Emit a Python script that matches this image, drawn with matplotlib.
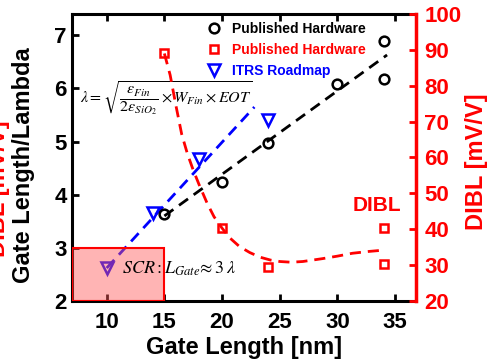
import matplotlib
matplotlib.use("Agg")
import matplotlib.pyplot as plt
from matplotlib.patches import Rectangle
import numpy as np

plt.rcParams['font.family'] = ['Liberation Sans', 'DejaVu Sans']
plt.rcParams['font.weight'] = 'normal'
plt.rcParams['mathtext.fontset'] = 'stix'

# Data
hw_x = [15, 20, 24, 30, 34, 34]
hw_ratio = [3.63, 4.24, 4.98, 6.09, 6.90, 6.18]
hw_fit_x = [15, 34.3]
hw_fit_y = [3.60, 6.63]

itrs_x = [10, 14, 18, 24]
itrs_ratio = [2.62, 3.66, 4.67, 5.41]
itrs_fit_x = [10, 22.8]
itrs_fit_y = [2.62, 5.65]

dibl_x = [15, 20, 24, 34, 34]
dibl_y = [89.0, 40.3, 29.5, 40.3, 30.3]
dibl_fit_x = [15.0, 15.5, 16.0, 16.5, 17.0, 17.5, 18.0, 18.7, 19.3, 20.0, 20.7, 21.5, 22.4,
              23.3, 24.2, 25.0, 26.0, 27.0, 28.7, 30.0, 31.3, 32.7, 34.1]
dibl_fit_y = [89.0, 83.0, 74.5, 66.5, 61.0, 56.5, 52.5, 47.3, 43.5, 40.3, 37.5, 35.2, 33.5,
              32.2, 31.4, 31.0, 30.8, 31.0, 31.8, 32.5, 33.3, 33.8, 34.2]

xticks = [10, 15, 20, 25, 30, 35]
yticks_left = [2, 3, 4, 5, 6, 7]
yticks_right = [20, 30, 40, 50, 60, 70, 80, 90, 100]

fig = plt.figure(figsize=(4.87, 3.6), dpi=100)
ax = fig.add_axes([0.148, 0.164, 0.706, 0.797])
ax2 = ax.twinx()

red = '#ff0000'
blue = '#0000ff'

# fits
ax.plot(hw_fit_x, hw_fit_y, '--', color='black', lw=2, dashes=(4, 2.5), zorder=2)
ax.plot(itrs_fit_x, itrs_fit_y, '--', color=blue, lw=2, dashes=(4, 2.5), zorder=2)
h_hw, = ax.plot(hw_x, hw_ratio, 'o', ms=7, mfc='none', mec='black', mew=1.8, zorder=3)
h_itrs, = ax.plot(itrs_x, itrs_ratio, 'v', ms=8.5, mfc='none', mec=blue, mew=1.8, zorder=3)

ax2.plot(dibl_fit_x, dibl_fit_y, '--', color=red, lw=2, dashes=(4, 2.5), zorder=2)
h_dibl, = ax2.plot(dibl_x, dibl_y, 's', ms=5.5, mfc='none', mec=red, mew=1.8, zorder=3)

# SCR rectangle
ax.add_patch(Rectangle((7, 2), 8, 1, facecolor=(1, 0.35, 0.35, 0.45), edgecolor=red, lw=1.5, zorder=4))

ax.set_xlim(7, 36.8)
ax.set_ylim(2, 7.4)
ax2.set_ylim(20, 100)
ax.set_xticks(xticks)
ax.set_yticks(yticks_left)
ax2.set_yticks(yticks_right)

ax.tick_params(axis='both', direction='in', width=2, length=5, labelsize=16, top=True, pad=6)
ax.tick_params(axis='y', pad=4)
ax.tick_params(axis='x', pad=8)
ax2.tick_params(axis='y', direction='in', width=2, length=5, labelsize=16, colors=red, pad=6)
for lab in ax.get_xticklabels() + ax.get_yticklabels():
    lab.set_fontweight('bold')
for lab in ax2.get_yticklabels():
    lab.set_fontweight('bold')
for s in ['left', 'bottom', 'top']:
    ax.spines[s].set_linewidth(2.2)
ax2.spines['right'].set_color(red)
ax2.spines['right'].set_linewidth(2.5)
for s in ['left', 'bottom', 'top']:
    ax2.spines[s].set_visible(False)
ax.spines['right'].set_visible(False)

ax.set_xlabel('Gate Length [nm]', fontsize=17, fontweight='bold', labelpad=2)
fig.text(0.048, 0.54, 'Gate Length/Lambda', rotation=90, fontsize=17, fontweight='bold',
         ha='center', va='center')
fig.text(-0.004, 0.475, 'DIBL [mV/V]', rotation=90, fontsize=17, fontweight='bold',
         ha='center', va='center', color=red)
fig.text(0.979, 0.55, 'DIBL [mV/V]', rotation=90, fontsize=17, fontweight='bold',
         ha='center', va='center', color=red)

ax.text(7.7, 5.82, r'$\lambda=\sqrt{\dfrac{\varepsilon_{Fin}}{2\varepsilon_{SiO_2}}\times W_{Fin}\times EOT}$',
        fontsize=11.5, fontweight='normal', ha='left', va='center', zorder=5)
ax.text(11.3, 2.6, r'$SCR:L_{Gate}\!\approx 3\,\lambda$', fontsize=13, fontweight='normal',
        ha='left', va='center', zorder=5)
ax2.text(33.4, 46.5, 'DIBL', color=red, fontsize=15, fontweight='bold', ha='center', va='center')

leg = ax.legend([h_hw, h_dibl, h_itrs], ['Published Hardware', 'Published Hardware', 'ITRS Roadmap'],
                loc='upper left', bbox_to_anchor=(0.36, 1.005), frameon=False,
                prop={'size': 10, 'weight': 'bold'}, handletextpad=0.7, labelspacing=0.5,
                handlelength=1.2, borderaxespad=0.3)
for t, c in zip(leg.get_texts(), ['black', red, blue]):
    t.set_color(c)

fig.savefig('out.png', dpi=100)
